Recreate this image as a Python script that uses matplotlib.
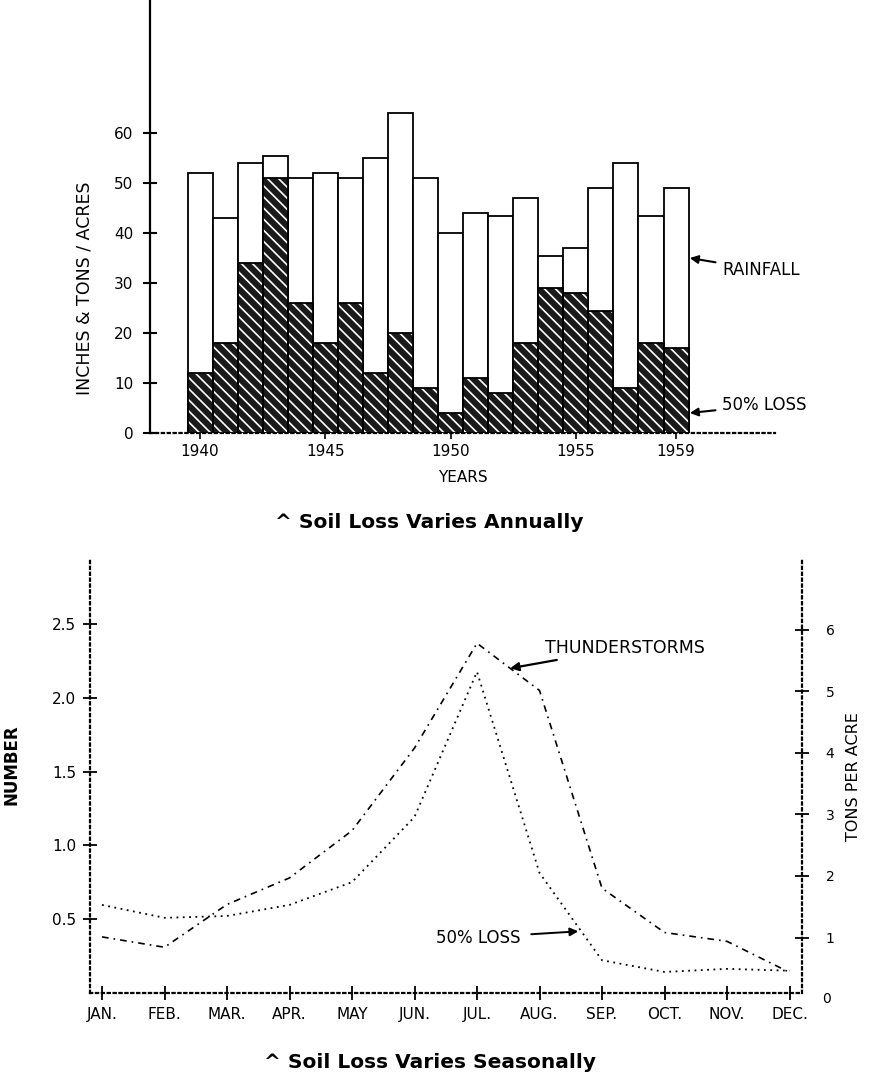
import matplotlib
matplotlib.use('Agg')
import matplotlib.pyplot as plt
import numpy as np

# annual data (top chart)
years = list(range(1940, 1960))
rainfall = [52, 43, 54, 55.5, 51, 52, 51, 55, 64, 51,
            40, 44, 43.5, 47, 35.5, 37, 49, 54, 43.5, 49]
soil_loss = [12, 18, 34, 51, 26, 18, 26, 12, 20, 9,
             4, 11, 8, 18, 29, 28, 24.5, 9, 18, 17]
year_ticks = [1940, 1945, 1950, 1955, 1959]
y_ticks_top = [0, 10, 20, 30, 40, 50, 60]

# seasonal data (bottom chart)
months = ['JAN.', 'FEB.', 'MAR.', 'APR.', 'MAY', 'JUN.',
          'JUL.', 'AUG.', 'SEP.', 'OCT.', 'NOV.', 'DEC.']
thunderstorms = [0.38, 0.31, 0.60, 0.78, 1.10, 1.66,
                 2.37, 2.05, 0.71, 0.41, 0.35, 0.14]
loss_tons = [1.53, 1.32, 1.35, 1.53, 1.90, 2.96,
             5.32, 2.05, 0.63, 0.44, 0.49, 0.46]
left_ticks = [0.5, 1.0, 1.5, 2.0, 2.5]
right_ticks = [1, 2, 3, 4, 5, 6]

W, H = 869, 1083
plt.rcParams['font.family'] = ['DejaVu Sans']
plt.rcParams['hatch.linewidth'] = 1.2
fig = plt.figure(figsize=(W / 100, H / 100), dpi=100)


def px_axes(l, t, r, b):
    return fig.add_axes([l / W, 1 - b / H, (r - l) / W, (b - t) / H])


# ---------- top chart ----------
ax = px_axes(150, 0, 775, 433)
x = np.array(years)
ax.bar(x, rainfall, width=1.0, color='white', edgecolor='black', linewidth=1.3, zorder=2)
ax.bar(x, soil_loss, width=1.0, color='#1a1a1a', linewidth=0, zorder=3)
ax.bar(x, soil_loss, width=1.0, fill=False, edgecolor='white', hatch='\\\\\\', linewidth=0, zorder=4)
ax.bar(x, soil_loss, width=1.0, fill=False, edgecolor='black', linewidth=1.3, zorder=5)

ax.set_xlim(1938.0, 1962.95)
ax.set_ylim(0, 86.6)
ax.set_xticks(year_ticks)
ax.set_xticklabels([str(y) for y in year_ticks], fontsize=11)
ax.set_yticks(y_ticks_top)
ax.set_yticklabels([str(v) for v in y_ticks_top], fontsize=11)
ax.tick_params(axis='y', direction='inout', length=10, width=1.5, pad=7)
ax.tick_params(axis='x', direction='out', length=4, width=1.2, pad=4)
for s in ['top', 'right']:
    ax.spines[s].set_visible(False)
ax.spines['left'].set_linewidth(1.6)
ax.spines['bottom'].set_linewidth(1.6)
ax.spines['bottom'].set_linestyle(':')

ax.set_xlabel('YEARS', fontsize=11, labelpad=8)
ax.set_ylabel('INCHES & TONS / ACRES', fontsize=12.5)
ax.yaxis.set_label_coords(-0.091, 0.335)

arrow_kw = dict(arrowstyle='-|>', color='black', lw=1.5, shrinkA=3, shrinkB=0)
ax.annotate('RAINFALL', xy=(1959.55, 35), xytext=(1960.85, 32.6),
            fontsize=12, va='center', ha='left', arrowprops=arrow_kw)
ax.annotate('50% LOSS', xy=(1959.55, 4), xytext=(1960.85, 5.6),
            fontsize=12, va='center', ha='left', arrowprops=arrow_kw)

fig.text(429 / W, 1 - 522 / H, '^ Soil Loss Varies Annually', ha='center', va='center',
         fontsize=14.5, fontweight='bold')

# ---------- bottom chart ----------
bx = px_axes(90, 560, 802, 993)
bx2 = bx.twinx()
mx = np.arange(len(months))
bx.plot(mx, thunderstorms, color='black', lw=1.2, linestyle=(0, (4, 3, 1, 3)))
bx2.plot(mx, loss_tons, color='black', lw=1.3, linestyle=(0, (1, 2.5)))

bx.set_xlim(-0.192, 11.2)
bx.set_ylim(0, 2.934)
bx2.set_ylim(0.0976, 7.138)
bx.set_xticks(mx)
bx.set_xticklabels(months, fontsize=11)
bx.set_yticks(left_ticks)
bx.set_yticklabels(['%.1f' % v for v in left_ticks], fontsize=11)
bx2.set_yticks(right_ticks)
bx2.set_yticklabels([str(v) for v in right_ticks], fontsize=10)
bx2.text(1.028, 0.0976 - (6 / 61.5), '0', transform=bx2.get_yaxis_transform(),
         fontsize=10, ha='left', va='center', clip_on=False)

bx.tick_params(axis='both', direction='inout', length=10, width=1.3, pad=5)
bx2.tick_params(axis='y', direction='inout', length=10, width=1.3, pad=12)
for s in ['top', 'right']:
    bx.spines[s].set_visible(False)
for s in ['top', 'left', 'bottom']:
    bx2.spines[s].set_visible(False)
for a, sides in ((bx, ['left', 'bottom']), (bx2, ['right'])):
    for s in sides:
        a.spines[s].set_linestyle(':')
        a.spines[s].set_linewidth(1.6)

bx.set_ylabel('NUMBER', fontsize=12, fontweight='bold')
bx.yaxis.set_label_coords(-0.098, 0.527)
bx2.set_ylabel('TONS PER ACRE', fontsize=11.5, rotation=90)
bx2.yaxis.set_label_coords(1.062, 0.50)

bx.annotate('THUNDERSTORMS', xy=(6.53, 2.20), xytext=(7.09, 2.34),
            fontsize=12.5, va='center', ha='left',
            arrowprops=dict(arrowstyle='-|>', color='black', lw=1.6,
                            shrinkA=2, shrinkB=0))
bx2.annotate('50% LOSS', xy=(7.62, 1.1), xytext=(6.69, 1.0),
             fontsize=12, va='center', ha='right',
             arrowprops=dict(arrowstyle='-|>', color='black', lw=1.4,
                             shrinkA=6, shrinkB=0))

fig.text(430 / W, 1 - 1062 / H, '^ Soil Loss Varies Seasonally', ha='center', va='center',
         fontsize=14.5, fontweight='bold')

fig.savefig('out.png', dpi=100)
